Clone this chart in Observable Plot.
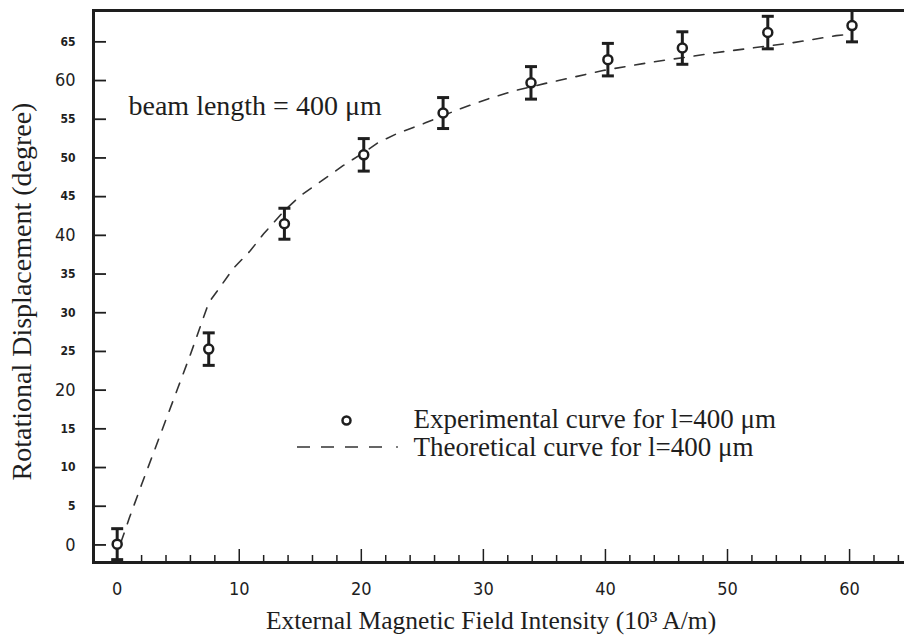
<!DOCTYPE html>
<html><head><meta charset="utf-8">
<script src="https://cdn.jsdelivr.net/npm/d3@7"></script>
<script src="https://cdn.jsdelivr.net/npm/@observablehq/plot@0.6"></script>
<style>body{margin:0;background:#fff} svg{display:block}</style>
</head><body><div id="chart"></div>
<script>
// Experimental data (field intensity in 10^3 A/m, rotational displacement in degrees)
const fieldX = [0, 7.5, 13.7, 20.2, 26.7, 33.9, 40.2, 46.3, 53.3, 60.2];
const dispY  = [0.1, 25.3, 41.5, 50.4, 55.8, 59.7, 62.7, 64.2, 66.2, 67.1];
const errY   = [2.0, 2.1, 2.0, 2.1, 2.0, 2.1, 2.1, 2.1, 2.1, 2.1];

// Theoretical curve
const theoryX = [0.3, 1, 2, 3, 4, 5, 6, 7.5, 8.2, 9.5, 10.9, 12, 13.7, 15, 16.8, 18.5, 20.3, 21.4, 23, 25.2, 28, 30.7, 32.6, 35, 37, 39.8, 42, 44.7, 47, 49, 52, 55.4, 58.9, 60.2];
const theoryY = [0.3, 3.5, 7.8, 12, 16.2, 20.4, 24.6, 31.3, 32.8, 35.7, 38, 40.2, 43.2, 45.1, 47.1, 49, 50.8, 52, 53.2, 54.5, 56.3, 57.8, 58.7, 59.6, 60.3, 61.3, 61.9, 62.6, 63.1, 63.6, 64.2, 64.9, 65.8, 66.0];

// Ticks
const xMajor = [0, 10, 20, 30, 40, 50, 60];
const xMinor = [2, 4, 6, 8, 12, 14, 16, 18, 22, 24, 26, 28, 32, 34, 36, 38, 42, 44, 46, 48, 52, 54, 56, 58, 62, 64];
const yTicks = [0, 5, 10, 15, 20, 25, 30, 35, 40, 45, 50, 55, 60, 65];
const yBig = [0, 20, 40, 60];
const ySmall = [5, 10, 15, 25, 30, 35, 45, 50, 55, 65];

// Texts
const xLabel = "External Magnetic Field Intensity (10³ A/m)";
const yLabel = "Rotational Displacement (degree)";
const note = "beam length = 400 μm";
const legendLabels = ["Experimental curve for l=400 μm", "Theoretical curve for l=400 μm"];

const xDomain = [-1.94, 64.5];
const yDomain = [-2.27, 69.05];

const serif = "'Liberation Serif','DejaVu Serif',serif";
const tickFont = "'DejaVu Sans Condensed','DejaVu Sans Mono',monospace";
const ink = "#1e1e1e";

const expData = fieldX.map((x, i) => ({x, y: dispY[i], lo: dispY[i] - errY[i], hi: dispY[i] + errY[i]}));
const theoryData = theoryX.map((x, i) => ({x, y: theoryY[i]}));

const cap = {draw(ctx) { ctx.moveTo(-6, 0); ctx.lineTo(6, 0); }};

const W = 904, H = 641, mL = 93, mT = 10, mB = 79, mR = 0;
const plotH = H - mT - mB, plotW = W - mL - mR;

function legendDash(index, scales, values, dimensions) {
  const g = d3.create("svg:g");
  const y = 447;
  g.append("line").attr("x1", 297).attr("x2", 390).attr("y1", y).attr("y2", y)
    .attr("stroke", "#333").attr("stroke-width", 1.6).attr("stroke-dasharray", "13,11");
  g.append("line").attr("x1", 396).attr("x2", 398).attr("y1", y).attr("y2", y)
    .attr("stroke", "#555").attr("stroke-width", 1.6);
  return g.node();
}

const chart = Plot.plot({
  width: W, height: H,
  marginLeft: mL, marginTop: mT, marginBottom: mB, marginRight: mR,
  x: {domain: xDomain, axis: null},
  y: {domain: yDomain, axis: null},
  style: {background: "#fff", color: ink, overflow: "visible"},
  marks: [
    Plot.line(theoryData, {x: "x", y: "y", stroke: "#333", strokeWidth: 1.6, strokeDasharray: "10,10", clip: true}),
    Plot.ruleX(expData, {x: "x", y1: "lo", y2: "hi", stroke: ink, strokeWidth: 3, clip: true}),
    Plot.dot(expData, {x: "x", y: "lo", symbol: cap, stroke: ink, strokeWidth: 3, clip: true}),
    Plot.dot(expData, {x: "x", y: "hi", symbol: cap, stroke: ink, strokeWidth: 3, clip: true}),
    Plot.dot(expData, {x: "x", y: "y", r: 4.5, fill: "#fff", stroke: ink, strokeWidth: 2.5}),
    Plot.tickX(xMinor, {x: d => d, insetTop: plotH - 7, stroke: ink, strokeWidth: 1.5}),
    Plot.tickX(xMajor, {x: d => d, insetTop: plotH - 13, stroke: ink, strokeWidth: 1.5}),
    Plot.tickY(yTicks, {y: d => d, insetRight: plotW - 13, stroke: ink, strokeWidth: 1.8}),
    Plot.axisX({ticks: xMajor, tickSize: 0, tickPadding: 20, fontSize: 18, fontFamily: tickFont, label: null}),
    Plot.axisY({ticks: yBig, tickSize: 0, tickPadding: 18, fontSize: 18, fontFamily: tickFont, label: null}),
    Plot.axisY({ticks: ySmall, tickSize: 0, tickPadding: 18, fontSize: 12, fontWeight: "bold", fontFamily: tickFont, label: null}),
    Plot.frame({anchor: "left", stroke: ink, strokeWidth: 3}),
    Plot.frame({anchor: "bottom", stroke: ink, strokeWidth: 3}),
    Plot.frame({anchor: "top", stroke: ink, strokeWidth: 3}),
    Plot.text([xLabel], {frameAnchor: "bottom", lineAnchor: "middle", dx: -8, dy: 58, fontSize: 25.5, fontFamily: serif, fill: ink}),
    Plot.text([yLabel], {frameAnchor: "left", textAnchor: "middle", lineAnchor: "middle", rotate: -90, dx: -71, dy: 5, fontSize: 28, fontFamily: serif, fill: ink}),
    Plot.text([note], {frameAnchor: "top-left", textAnchor: "start", lineAnchor: "middle", dx: 35, dy: 96, fontSize: 28, fontFamily: serif, fill: ink}),
    Plot.dot([0], {frameAnchor: "top-left", dx: 253, dy: 410, r: 4, fill: "#fff", stroke: ink, strokeWidth: 2.5}),
    Plot.text([legendLabels[0]], {frameAnchor: "top-left", textAnchor: "start", lineAnchor: "middle", dx: 320, dy: 409, fontSize: 27, fontFamily: serif, fill: ink}),
    Plot.text([legendLabels[1]], {frameAnchor: "top-left", textAnchor: "start", lineAnchor: "middle", dx: 320, dy: 437, fontSize: 27, fontFamily: serif, fill: ink}),
    legendDash
  ]
});
document.getElementById("chart").append(chart);
</script>
</body></html>
